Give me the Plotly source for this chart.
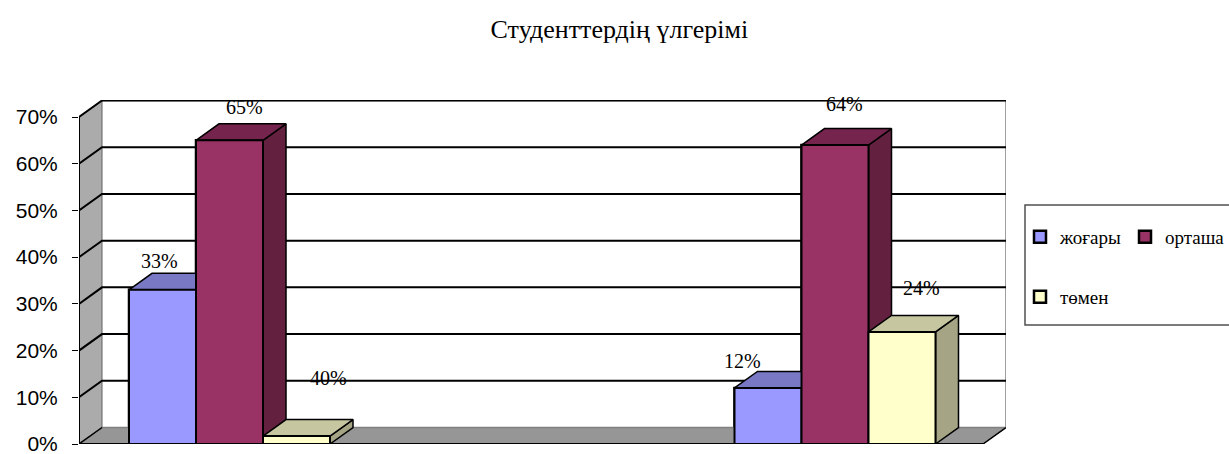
import plotly.graph_objects as go

# ---------------- data ----------------
TITLE = "Студенттердің үлгерімі"
GROUP_POS = [0, 1]                       # two (unlabelled) category groups
SERIES = ["жоғары", "орташа", "төмен"]
VAL_HIGH = [0.33, 0.12]
VAL_MID = [0.65, 0.64]
VAL_LOW = [0.017, 0.24]
LBL_HIGH = ["33%", "12%"]
LBL_MID = ["65%", "64%"]
LBL_LOW = ["40%", "24%"]
TICK_VALS = [0.0, 0.1, 0.2, 0.3, 0.4, 0.5, 0.6, 0.7]
TICK_TEXT = ["0%", "10%", "20%", "30%", "40%", "50%", "60%", "70%"]

VALUES = [VAL_HIGH, VAL_MID, VAL_LOW]
LABELS = [LBL_HIGH, LBL_MID, LBL_LOW]

# ---------------- style ----------------
FRONT = ["#9999FF", "#993366", "#FFFFCC"]
TOP = ["#7878C4", "#74244D", "#C6C6A0"]
SIDE = ["#6262A8", "#63203F", "#A5A585"]
SERIF = "Liberation Serif, Times New Roman, serif"
SANS = "Liberation Sans, Arial, sans-serif"

# geometry of the pseudo-3D view (axis units)
PX_X = 605.5                 # pixels per x unit
PX_Y = 467.14                # pixels per y unit
PLOT_W, PLOT_H = 927, 344
XL = -150.5 / PX_X
XR = XL + PLOT_W / PX_X
YTOP = PLOT_H / PX_Y
DX = 23 / PX_X
DY = 16.5 / PX_Y
BW = 67 / PX_X
YMAX = TICK_VALS[-1]

# label offsets (pixels) per series/group
LBL_XSHIFT = [[-15, -37], [3, -2], [20, 8]]
LBL_YSHIFT = [[12, 10], [17, 25], [42, 27]]

fig = go.Figure()


def poly(xs, ys, fill, lw=1.5, lc="black"):
    fig.add_trace(go.Scatter(
        x=xs + [xs[0]], y=ys + [ys[0]], mode="lines", fill="toself",
        fillcolor=fill, line=dict(color=lc, width=lw),
        showlegend=False, hoverinfo="skip"))


def line(xs, ys, lw=2, lc="black"):
    fig.add_trace(go.Scatter(
        x=xs, y=ys, mode="lines", line=dict(color=lc, width=lw),
        showlegend=False, hoverinfo="skip"))


# real bars (front faces) – also provide the legend
for k, name in enumerate(SERIES):
    fig.add_trace(go.Bar(
        x=GROUP_POS, y=VALUES[k], name=name, width=BW,
        offset=(k - 1.5) * BW,
        marker=dict(color=FRONT[k], line=dict(color="black", width=2.5)),
        legend="legend" if k < 2 else "legend2",
        hoverinfo="skip"))

# walls
poly([XL, XL + DX, XL + DX, XL], [0, DY, YMAX + DY, YMAX], "#ABABAB", lw=1, lc="#606060")
poly([XL, XR - DX, XR, XL + DX], [0, 0, DY, DY], "#969696", lw=1, lc="#606060")
line([XL + DX, XR, XR, XL + DX], [YMAX + DY, YMAX + DY, DY, DY], lw=1.5, lc="#808080")

# gridlines: back wall + left wall diagonals
for t in TICK_VALS[1:]:
    line([XL, XL + DX, XR], [t, t + DY, t + DY], lw=2)
line([XL, XL + DX], [0, DY], lw=1.5)
line([XR - DX, XR], [0, DY], lw=1.5)
line([XL, XR - DX], [0, 0], lw=2)
line([XL, XL], [0, YMAX], lw=2)

# 3D bars
for g, gx in enumerate(GROUP_POS):
    for k in range(len(SERIES)):
        v = VALUES[k][g]
        x0 = gx + (k - 1.5) * BW
        x1 = x0 + BW
        poly([x1, x1 + DX, x1 + DX, x1], [0, DY, v + DY, v], SIDE[k])
        poly([x0, x0 + DX, x1 + DX, x1], [v, v + DY, v + DY, v], TOP[k])
        poly([x0, x1, x1, x0], [0, 0, v, v], FRONT[k], lw=2)

# value labels
for g, gx in enumerate(GROUP_POS):
    for k in range(len(SERIES)):
        v = VALUES[k][g]
        fig.add_annotation(
            x=gx + (k - 1) * BW + DX / 2, y=v + DY, text=LABELS[k][g],
            showarrow=False, xanchor="center", yanchor="middle",
            xshift=LBL_XSHIFT[k][g], yshift=LBL_YSHIFT[k][g],
            font=dict(family=SERIF, size=20, color="black"))

# legend frame
fig.add_shape(type="rect", xref="paper", yref="paper",
              x0=(1025 - 79) / PLOT_W, x1=(1240 - 79) / PLOT_W,
              y0=(444 - 325) / PLOT_H, y1=(444 - 205) / PLOT_H,
              line=dict(color="#505050", width=1.5), fillcolor="rgba(0,0,0,0)")

fig.update_layout(
    width=1229, height=454,
    margin=dict(l=79, r=223, t=100, b=10, autoexpand=False),
    paper_bgcolor="white", plot_bgcolor="white",
    barmode="overlay",
    title=dict(text=TITLE, x=0.504, xanchor="center", y=1 - 29 / 454,
               yanchor="middle", font=dict(family=SERIF, size=26, color="black")),
    xaxis=dict(range=[XL, XR], visible=False, fixedrange=True),
    yaxis=dict(range=[0, YTOP], tickvals=TICK_VALS, ticktext=TICK_TEXT,
               ticks="outside", ticklen=6, tickwidth=1, tickcolor="black",
               showgrid=False, zeroline=False, showline=False,
               ticklabelstandoff=10, ticklabeloverflow="allow",
               tickfont=dict(family=SANS, size=21, color="black"),
               fixedrange=True),
    legend=dict(orientation="h", x=(1020 - 79) / PLOT_W, xanchor="left",
                y=(444 - 237) / PLOT_H, yanchor="middle",
                entrywidth=60, entrywidthmode="pixels",
                font=dict(family=SERIF, size=19, color="black"),
                bgcolor="rgba(0,0,0,0)", borderwidth=0, traceorder="normal"),
    legend2=dict(orientation="h", x=(1020 - 79) / PLOT_W, xanchor="left",
                 y=(444 - 297) / PLOT_H, yanchor="middle",
                 font=dict(family=SERIF, size=19, color="black"),
                 bgcolor="rgba(0,0,0,0)", borderwidth=0),
    showlegend=True,
    hovermode=False,
)

fig.write_html("out.html", config={"displayModeBar": False},
               post_script="document.body.style.margin='0px';")
